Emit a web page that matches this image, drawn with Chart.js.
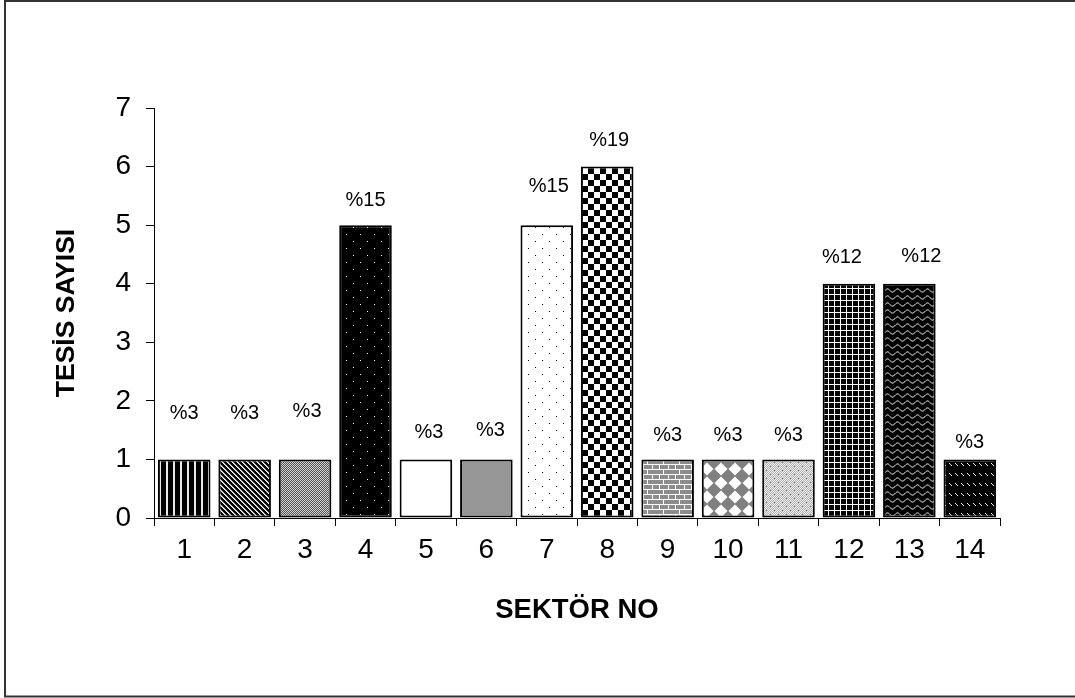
<!DOCTYPE html>
<html>
<head>
<meta charset="utf-8">
<script src="https://cdn.jsdelivr.net/npm/chart.js@4"></script>
<style>
html,body{margin:0;padding:0;background:#fff;}
#wrap{width:1075px;height:698px;position:relative;}
</style>
</head>
<body>
<div id="wrap"><canvas id="c" width="1075" height="698"></canvas></div>
<script>
// ---- data ----
const categories = ['1','2','3','4','5','6','7','8','9','10','11','12','13','14'];
const tesisSayisi = [1, 1, 1, 5, 1, 1, 5, 6, 1, 1, 1, 4, 4, 1];
const percentLabels = ['%3','%3','%3','%15','%3','%3','%15','%19','%3','%3','%3','%12','%12','%3'];
const yTicks = [0, 1, 2, 3, 4, 5, 6, 7];
const yTitle = 'TESİS SAYISI';
const xTitle = 'SEKTÖR NO';

// ---- label placement (pixels above bar top, horizontal nudge) ----
const labelLift = [46, 46, 48, 25, 27, 29, 39, 26, 24, 24, 24, 26, 27, 17];
const labelNudge = [0, 0, 2, 0, 3, 4, 2, 2, 0, 0, 0, -7, 12, 0];

// ---- fill patterns ----
function tile(w, h, paint) {
  const cv = document.createElement('canvas');
  cv.width = w; cv.height = h;
  const g = cv.getContext('2d');
  paint(g, w, h);
  return document.getElementById('c').getContext('2d').createPattern(cv, 'repeat');
}
function px(g, x, y, c) { g.fillStyle = c; g.fillRect(x, y, 1, 1); }
const patterns = [
  // 1 vertical stripes
  tile(7, 1, (g) => { g.fillStyle = '#000'; g.fillRect(0,0,7,1); g.fillStyle = '#e8e8e8'; g.fillRect(5,0,2,1); }),
  // 2 diagonal stripes
  tile(5, 5, (g) => { g.fillStyle = '#000'; g.fillRect(0,0,5,5);
    for (let i = 0; i < 5; i++) { px(g, i, i, '#fff'); px(g, (i+1)%5, i, '#aaa'); } }),
  // 3 fine dither grey
  tile(2, 2, (g) => { px(g,0,0,'#d0d0d0'); px(g,1,1,'#d0d0d0'); px(g,1,0,'#555'); px(g,0,1,'#555'); }),
  // 4 black with white dots
  tile(14, 14, (g) => { g.fillStyle = '#000'; g.fillRect(0,0,14,14); px(g,3,3,'#fff'); px(g,10,10,'#fff'); }),
  // 5 white
  '#ffffff',
  // 6 grey
  '#969696',
  // 7 white with black dots
  tile(14, 14, (g) => { g.fillStyle = '#fff'; g.fillRect(0,0,14,14); px(g,3,3,'#000'); px(g,10,10,'#000'); }),
  // 8 checkerboard
  tile(12, 12, (g) => { g.fillStyle = '#fff'; g.fillRect(0,0,12,12); g.fillStyle = '#000'; g.fillRect(0,0,6,6); g.fillRect(6,6,6,6); }),
  // 9 bricks
  tile(16, 10, (g) => { g.fillStyle = '#fff'; g.fillRect(0,0,16,10); g.fillStyle = '#8c8c8c';
    g.fillRect(0,0,7,4); g.fillRect(8,0,8,4); g.fillRect(0,5,3,4); g.fillRect(4,5,8,4); g.fillRect(13,5,3,4); }),
  // 10 diamonds
  tile(14, 14, (g) => { g.fillStyle = '#808080'; g.fillRect(0,0,14,14); g.fillStyle = '#fff';
    g.beginPath(); g.moveTo(7,0.5); g.lineTo(13.5,7); g.lineTo(7,13.5); g.lineTo(0.5,7); g.closePath(); g.fill(); }),
  // 11 light dither with dots
  tile(8, 8, (g) => { for (let y=0;y<8;y++) for (let x=0;x<8;x++) px(g,x,y,((x+y)%2)?'#b4b4b4':'#ececec'); px(g,2,2,'#777'); px(g,6,6,'#777'); }),
  // 12 black with white grid
  tile(6, 6, (g) => { g.fillStyle = '#000'; g.fillRect(0,0,6,6); g.fillStyle = '#fff'; g.fillRect(0,0,6,1); g.fillRect(0,0,1,6); }),
  // 13 black with white waves
  tile(10, 7, (g) => { g.fillStyle = '#000'; g.fillRect(0,0,10,7); g.strokeStyle = '#fff'; g.lineWidth = 1;
    g.beginPath(); for (let x=0;x<=10;x+=0.5) { const y = 3.5 + 1.6*Math.sin(x/10*2*Math.PI); if (x===0) g.moveTo(x,y); else g.lineTo(x,y); } g.stroke(); }),
  // 14 black with short white dashes
  tile(6, 10, (g) => { g.fillStyle = '#000'; g.fillRect(0,0,6,10); px(g,1,3,'#fff'); px(g,2,4,'#ddd'); px(g,3,5,'#fff'); })
];

const FONT = "'Liberation Sans', Arial, sans-serif";

const frame = {
  id: 'frame',
  beforeDraw(chart) {
    const ctx = chart.ctx;
    ctx.save();
    ctx.fillStyle = '#fff';
    ctx.fillRect(0, 0, chart.width, chart.height);
    ctx.restore();
  },
  afterDraw(chart) {
    const ctx = chart.ctx;
    ctx.save();
    ctx.strokeStyle = '#333';
    ctx.lineWidth = 2;
    ctx.strokeRect(5, 1, 1090, 695.5);
    ctx.restore();
  }
};

const pctLabels = {
  id: 'pctLabels',
  afterDatasetsDraw(chart) {
    const ctx = chart.ctx;
    const meta = chart.getDatasetMeta(0);
    ctx.save();
    ctx.fillStyle = '#000';
    ctx.font = '20px ' + FONT;
    ctx.textAlign = 'center';
    ctx.textBaseline = 'middle';
    meta.data.forEach((bar, i) => {
      ctx.fillText(percentLabels[i], bar.x + labelNudge[i], bar.y - labelLift[i]);
    });
    ctx.restore();
  }
};

new Chart(document.getElementById('c'), {
  type: 'bar',
  data: {
    labels: categories,
    datasets: [{
      data: tesisSayisi,
      backgroundColor: patterns,
      borderColor: '#000',
      borderWidth: 2,
      borderSkipped: false,
      barPercentage: 0.87,
      categoryPercentage: 1
    }]
  },
  options: {
    responsive: false,
    animation: false,
    devicePixelRatio: 1,
    layout: { padding: { top: 108, right: 75, left: 0, bottom: 0 } },
    plugins: { legend: { display: false }, tooltip: { enabled: false } },
    scales: {
      x: {
        grid: { display: true, drawOnChartArea: false, drawTicks: true, tickLength: 8, color: '#000', lineWidth: 1 },
        border: { display: true, color: '#000', width: 1 },
        ticks: { color: '#000', font: { family: FONT, size: 28 }, padding: 7, maxRotation: 0 },
        title: { display: true, text: xTitle, color: '#000', font: { family: FONT, size: 27.5, weight: 'bold' }, padding: { top: 0, bottom: 71 } },
        afterFit(scale) { scale.height = 180; }
      },
      y: {
        min: 0, max: 7,
        afterBuildTicks(scale) { scale.ticks = yTicks.map(v => ({ value: v })); },
        grid: { display: true, drawOnChartArea: false, drawTicks: true, tickLength: 8, color: '#000', lineWidth: 1 },
        border: { display: true, color: '#000', width: 1 },
        ticks: { color: '#000', font: { family: FONT, size: 28 }, padding: 15 },
        title: { display: true, text: yTitle, color: '#000', font: { family: FONT, size: 26.5, weight: 'bold' }, padding: { top: 51, bottom: 0 } },
        afterFit(scale) { scale.width = 154; }
      }
    }
  },
  plugins: [frame, pctLabels]
});
</script>
</body>
</html>
